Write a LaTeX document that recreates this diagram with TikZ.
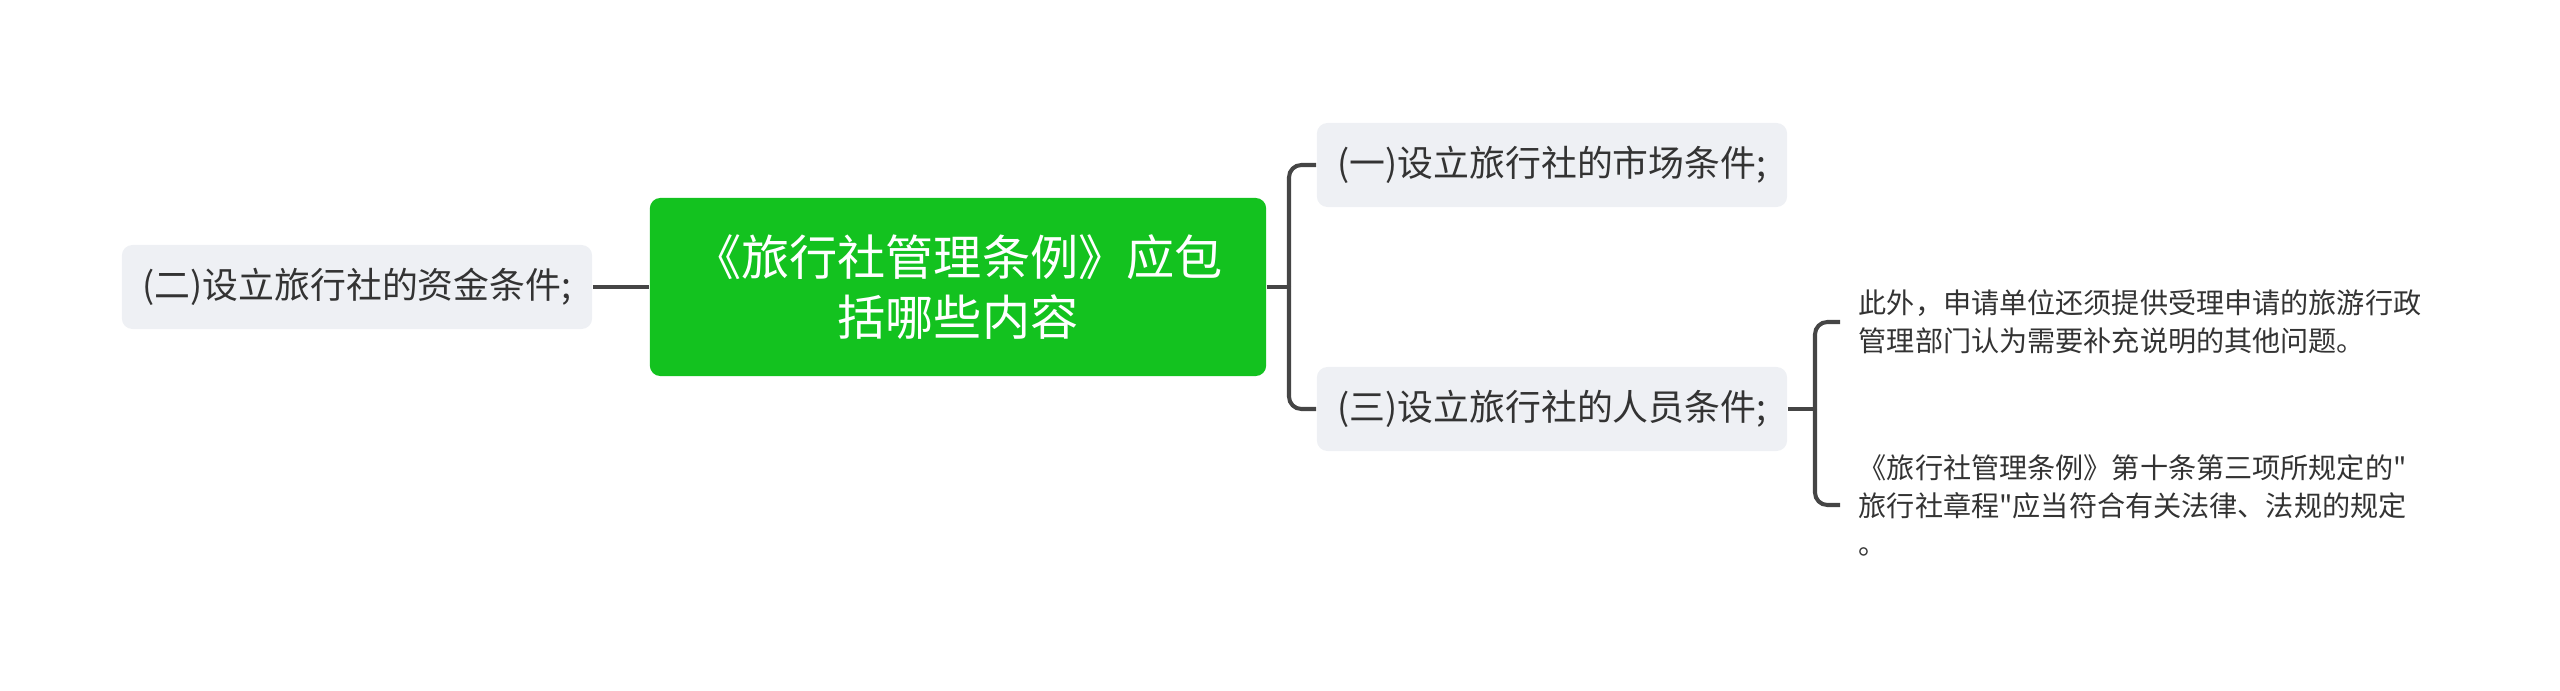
\documentclass[tikz,border=0pt]{standalone}
\usepackage{fontspec}
\newfontfamily\cjk{Noto Sans CJK SC}
\definecolor{rootgreen}{HTML}{13C21F}
\definecolor{topicgray}{HTML}{EEF0F4}
\definecolor{linegray}{HTML}{454545}
\definecolor{textgray}{HTML}{333333}
\begin{document}
\begin{tikzpicture}[x=0.01cm, y=-0.01cm, every node/.style={text=textgray},
  topic/.style={fill=topicgray,rounded corners=3pt,minimum width=4.70cm,minimum height=0.84cm,inner sep=0pt,font=\cjk\fontsize{10.2pt}{12pt}\selectfont},
  note/.style={anchor=west,align=left,inner xsep=0.18cm,inner ysep=0pt,font=\cjk\fontsize{8pt}{10.8pt}\selectfont},
  conn/.style={draw=linegray,line width=1.15pt,rounded corners=3.5pt}]
\useasboundingbox (0,0) rectangle (2560,691);
\node[fill=rootgreen,rounded corners=3pt,minimum width=6.16cm,minimum height=1.78cm,align=center,text=white,font=\cjk\fontsize{13.7pt}{17.1pt}\selectfont] (root) at (958,287) {《旅行社管理条例》应包\\括哪些内容};
\node[topic] (fund) at (357,287) {(二)设立旅行社的资金条件;};
\node[topic] (market) at (1552,165) {(一)设立旅行社的市场条件;};
\node[topic] (staff) at (1552,409) {(三)设立旅行社的人员条件;};
% notes under the staff topic
\node[note] (extra) at (1840,322) {此外，申请单位还须提供受理申请的旅游行政\\管理部门认为需要补充说明的其他问题。};
\node[note] (rules) at (1840,505) {《旅行社管理条例》第十条第三项所规定的"\\旅行社章程"应当符合有关法律、法规的规定\\。};
\coordinate (j1) at (1289,287); \coordinate (j2) at (1815,409);
\draw[conn] (fund.east) -- (root.west); \draw[conn] (root.east) -- (j1);
\draw[conn] (j1) |- (market.west); \draw[conn] (j1) |- (staff.west);
\draw[conn] (staff.east) -- (j2); \draw[conn] (j2) |- (extra.west); \draw[conn] (j2) |- (rules.west);
\end{tikzpicture}
\end{document}
